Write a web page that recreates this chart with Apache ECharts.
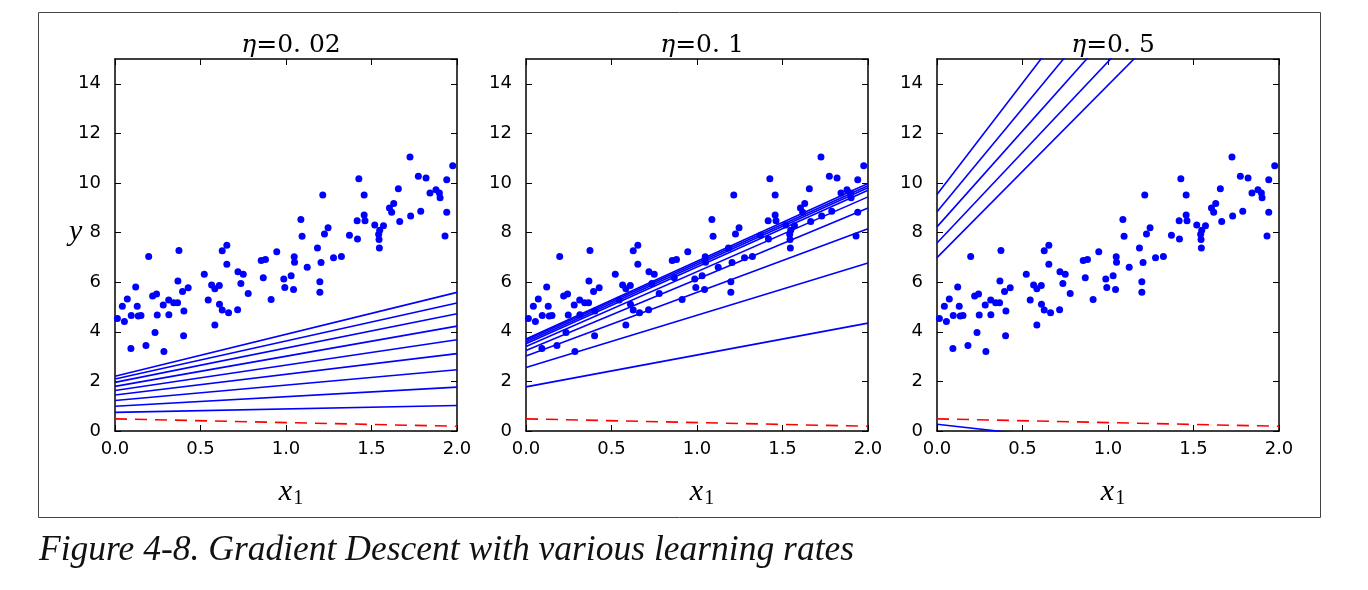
<!DOCTYPE html>
<html>
<head>
<meta charset="utf-8">
<script src="https://cdn.jsdelivr.net/npm/echarts@6/dist/echarts.min.js"></script>
<style>
html,body{margin:0;padding:0;background:#fff;}
#chart{width:1368px;height:590px;}
</style>
</head>
<body>
<div id="chart"></div>
<script>
// ---- data ----
const panelTitles = ['0. 02', '0. 1', '0. 5'];
const xTicks = [0, 0.5, 1, 1.5, 2];
const yTicks = [0, 2, 4, 6, 8, 10, 12, 14];

const scatterX = [0.014,0.043,0.055,0.072,0.093,0.095,0.121,0.130,0.136,0.152,
  0.181,0.197,0.220,0.234,0.243,0.247,0.282,0.286,0.314,0.315,
  0.343,0.366,0.368,0.374,0.395,0.403,0.401,0.428,0.522,0.545,
  0.565,0.584,0.584,0.610,0.611,0.627,0.627,0.654,0.654,0.664,
  0.719,0.717,0.736,0.750,0.779,0.855,0.867,0.880,0.913,0.946,
  0.987,0.993,1.030,1.044,1.048,1.050,1.087,1.094,1.124,1.184,
  1.198,1.198,1.205,1.215,1.225,1.246,1.278,1.324,1.371,1.416,
  1.418,1.426,1.457,1.457,1.462,1.519,1.542,1.544,1.548,1.546,
  1.570,1.605,1.618,1.630,1.657,1.665,1.725,1.729,1.774,1.788,
  1.819,1.842,1.877,1.897,1.901,1.930,1.940,1.940,1.975];
const scatterY = [4.54,5.03,4.42,5.32,3.33,4.66,5.81,5.03,4.64,4.66,
  3.45,7.04,5.44,3.97,5.52,4.68,5.08,3.21,5.28,4.69,
  5.17,5.17,6.05,7.28,5.63,4.84,3.84,5.78,6.32,5.28,
  5.89,5.74,4.27,5.87,5.11,7.27,4.88,7.49,6.72,4.77,
  6.42,4.89,5.95,6.32,5.54,6.88,6.18,6.92,5.30,7.23,
  6.13,5.79,6.26,5.71,7.03,6.80,8.53,7.85,6.60,7.38,
  6.02,5.59,6.79,9.52,7.94,8.20,6.99,7.04,7.89,8.48,
  7.74,10.17,8.71,9.52,8.48,8.31,7.93,7.72,8.09,7.38,
  8.28,8.99,8.82,9.17,9.77,8.45,11.05,8.67,10.27,8.86,
  10.20,9.60,9.73,9.60,9.41,7.86,10.13,8.82,10.70];

// initial prediction (red dashed), value at x=0 and x=2
const initLine = [0.49, 0.19];
// predictions of successive iterations: value at x=0 (left) and x=2 (right)
const eta002Left  = [0.75, 1.00, 1.23, 1.45, 1.63, 1.80, 1.96, 2.10, 2.21];
const eta002Right = [1.03, 1.77, 2.47, 3.12, 3.68, 4.23, 4.73, 5.16, 5.59];
const eta01Left   = [1.78, 2.56, 3.02, 3.25, 3.41, 3.52, 3.59, 3.66, 3.71];
const eta01Right  = [4.35, 6.77, 8.16, 8.99, 9.44, 9.71, 9.81, 9.89, 9.98];
const eta05Left   = [0.27, 6.99, 7.58, 8.23, 8.84, 9.54];
const eta05Right  = [-1.27, 20.9, 22.2, 23.7, 25.5, 27.5];

// ---- layout ----
const gridLefts = [115, 526, 937];
const gridW = 342, gridTop = 59, gridH = 372;
const BLUE = '#0000ff';

const chart = echarts.init(document.getElementById('chart'), null, {renderer: 'canvas'});

const grids = [], xAxes = [], yAxes = [], series = [], titles = [];
const tickFont = {fontFamily: 'DejaVu Sans', fontSize: 18, color: '#000'};

const lineSets = [[eta002Left, eta002Right], [eta01Left, eta01Right], [eta05Left, eta05Right]];

for (let p = 0; p < 3; p++) {
  grids.push({left: gridLefts[p], top: gridTop, width: gridW, height: gridH, outerBoundsMode: 'none', containLabel: false});
  const axLine = {show: true, onZero: false, lineStyle: {color: '#000', width: 1.5}};
  const axTick = {show: true, inside: true, length: 6, lineStyle: {color: '#000', width: 1}};
  // bottom x axis
  xAxes.push({type: 'value', gridIndex: p, position: 'bottom', min: 0, max: 2, interval: 0.5,
    axisLine: axLine, axisTick: axTick, splitLine: {show: false},
    axisLabel: Object.assign({margin: 9, formatter: v => v.toFixed(1)}, tickFont)});
  // top x axis
  xAxes.push({type: 'value', gridIndex: p, position: 'top', min: 0, max: 2, interval: 0.5,
    axisLine: axLine, axisTick: axTick, splitLine: {show: false}, axisLabel: {show: false}});
  // left y axis
  yAxes.push({type: 'value', gridIndex: p, position: 'left', min: 0, max: 15, interval: 2,
    axisLine: axLine, axisTick: axTick, splitLine: {show: false},
    axisLabel: Object.assign({margin: 14, showMaxLabel: false}, tickFont)});
  // right y axis
  yAxes.push({type: 'value', gridIndex: p, position: 'right', min: 0, max: 15, interval: 2,
    axisLine: axLine, axisTick: axTick, splitLine: {show: false}, axisLabel: {show: false}});

  const xi = p * 2, yi = p * 2;
  series.push({type: 'scatter', xAxisIndex: xi, yAxisIndex: yi, symbolSize: 7,
    itemStyle: {color: BLUE, opacity: 1}, data: scatterX.map((x, i) => [x, scatterY[i]]), z: 2, silent: true});
  series.push({type: 'line', xAxisIndex: xi, yAxisIndex: yi, showSymbol: false, clip: true,
    lineStyle: {color: '#ff0000', width: 1.6, type: [12, 8]}, data: [[0, initLine[0]], [2, initLine[1]]], z: 3, silent: true});
  const [L, R] = lineSets[p];
  for (let k = 0; k < L.length; k++) {
    series.push({type: 'line', xAxisIndex: xi, yAxisIndex: yi, showSymbol: false, clip: true,
      lineStyle: {color: BLUE, width: 1.6}, data: [[0, L[k]], [2, R[k]]], z: 3, silent: true});
  }

  titles.push({text: '{e|η}{r|=' + panelTitles[p] + '}', left: gridLefts[p] + gridW / 2, top: 28, textAlign: 'center',
    textStyle: {fontWeight: 'normal', rich: {
      e: {fontFamily: 'DejaVu Serif', fontStyle: 'italic', fontWeight: 'normal', fontSize: 25, color: '#000'},
      r: {fontFamily: 'DejaVu Serif', fontWeight: 'normal', fontSize: 25, color: '#000'}}}});
  titles.push({text: '{x|x}{s|1}', left: gridLefts[p] + gridW / 2, top: 470, textAlign: 'center',
    textStyle: {fontWeight: 'normal', rich: {
      x: {fontFamily: 'Liberation Serif', fontStyle: 'italic', fontWeight: 'normal', fontSize: 30, color: '#000'},
      s: {fontFamily: 'Liberation Serif', fontWeight: 'normal', fontSize: 20, color: '#000', padding: [14, 0, 0, 1]}}}});
}
titles.push({text: 'y', left: 64, top: 212,
  textStyle: {fontFamily: 'Liberation Serif', fontStyle: 'italic', fontSize: 30, color: '#000', fontWeight: 'normal'}});
titles.push({text: 'Figure 4-8. Gradient Descent with various learning rates', left: 34, top: 528,
  textStyle: {fontFamily: 'Liberation Serif', fontStyle: 'italic', fontSize: 35.5, color: '#111', fontWeight: 'normal'}});

chart.setOption({
  backgroundColor: '#fff',
  animation: false,
  title: titles,
  grid: grids,
  xAxis: xAxes,
  yAxis: yAxes,
  series: series,
  graphic: [{type: 'rect', shape: {x: 38.5, y: 12.5, width: 1282, height: 505},
    style: {fill: 'none', stroke: '#444', lineWidth: 1}, silent: true}]
});
</script>
</body>
</html>
